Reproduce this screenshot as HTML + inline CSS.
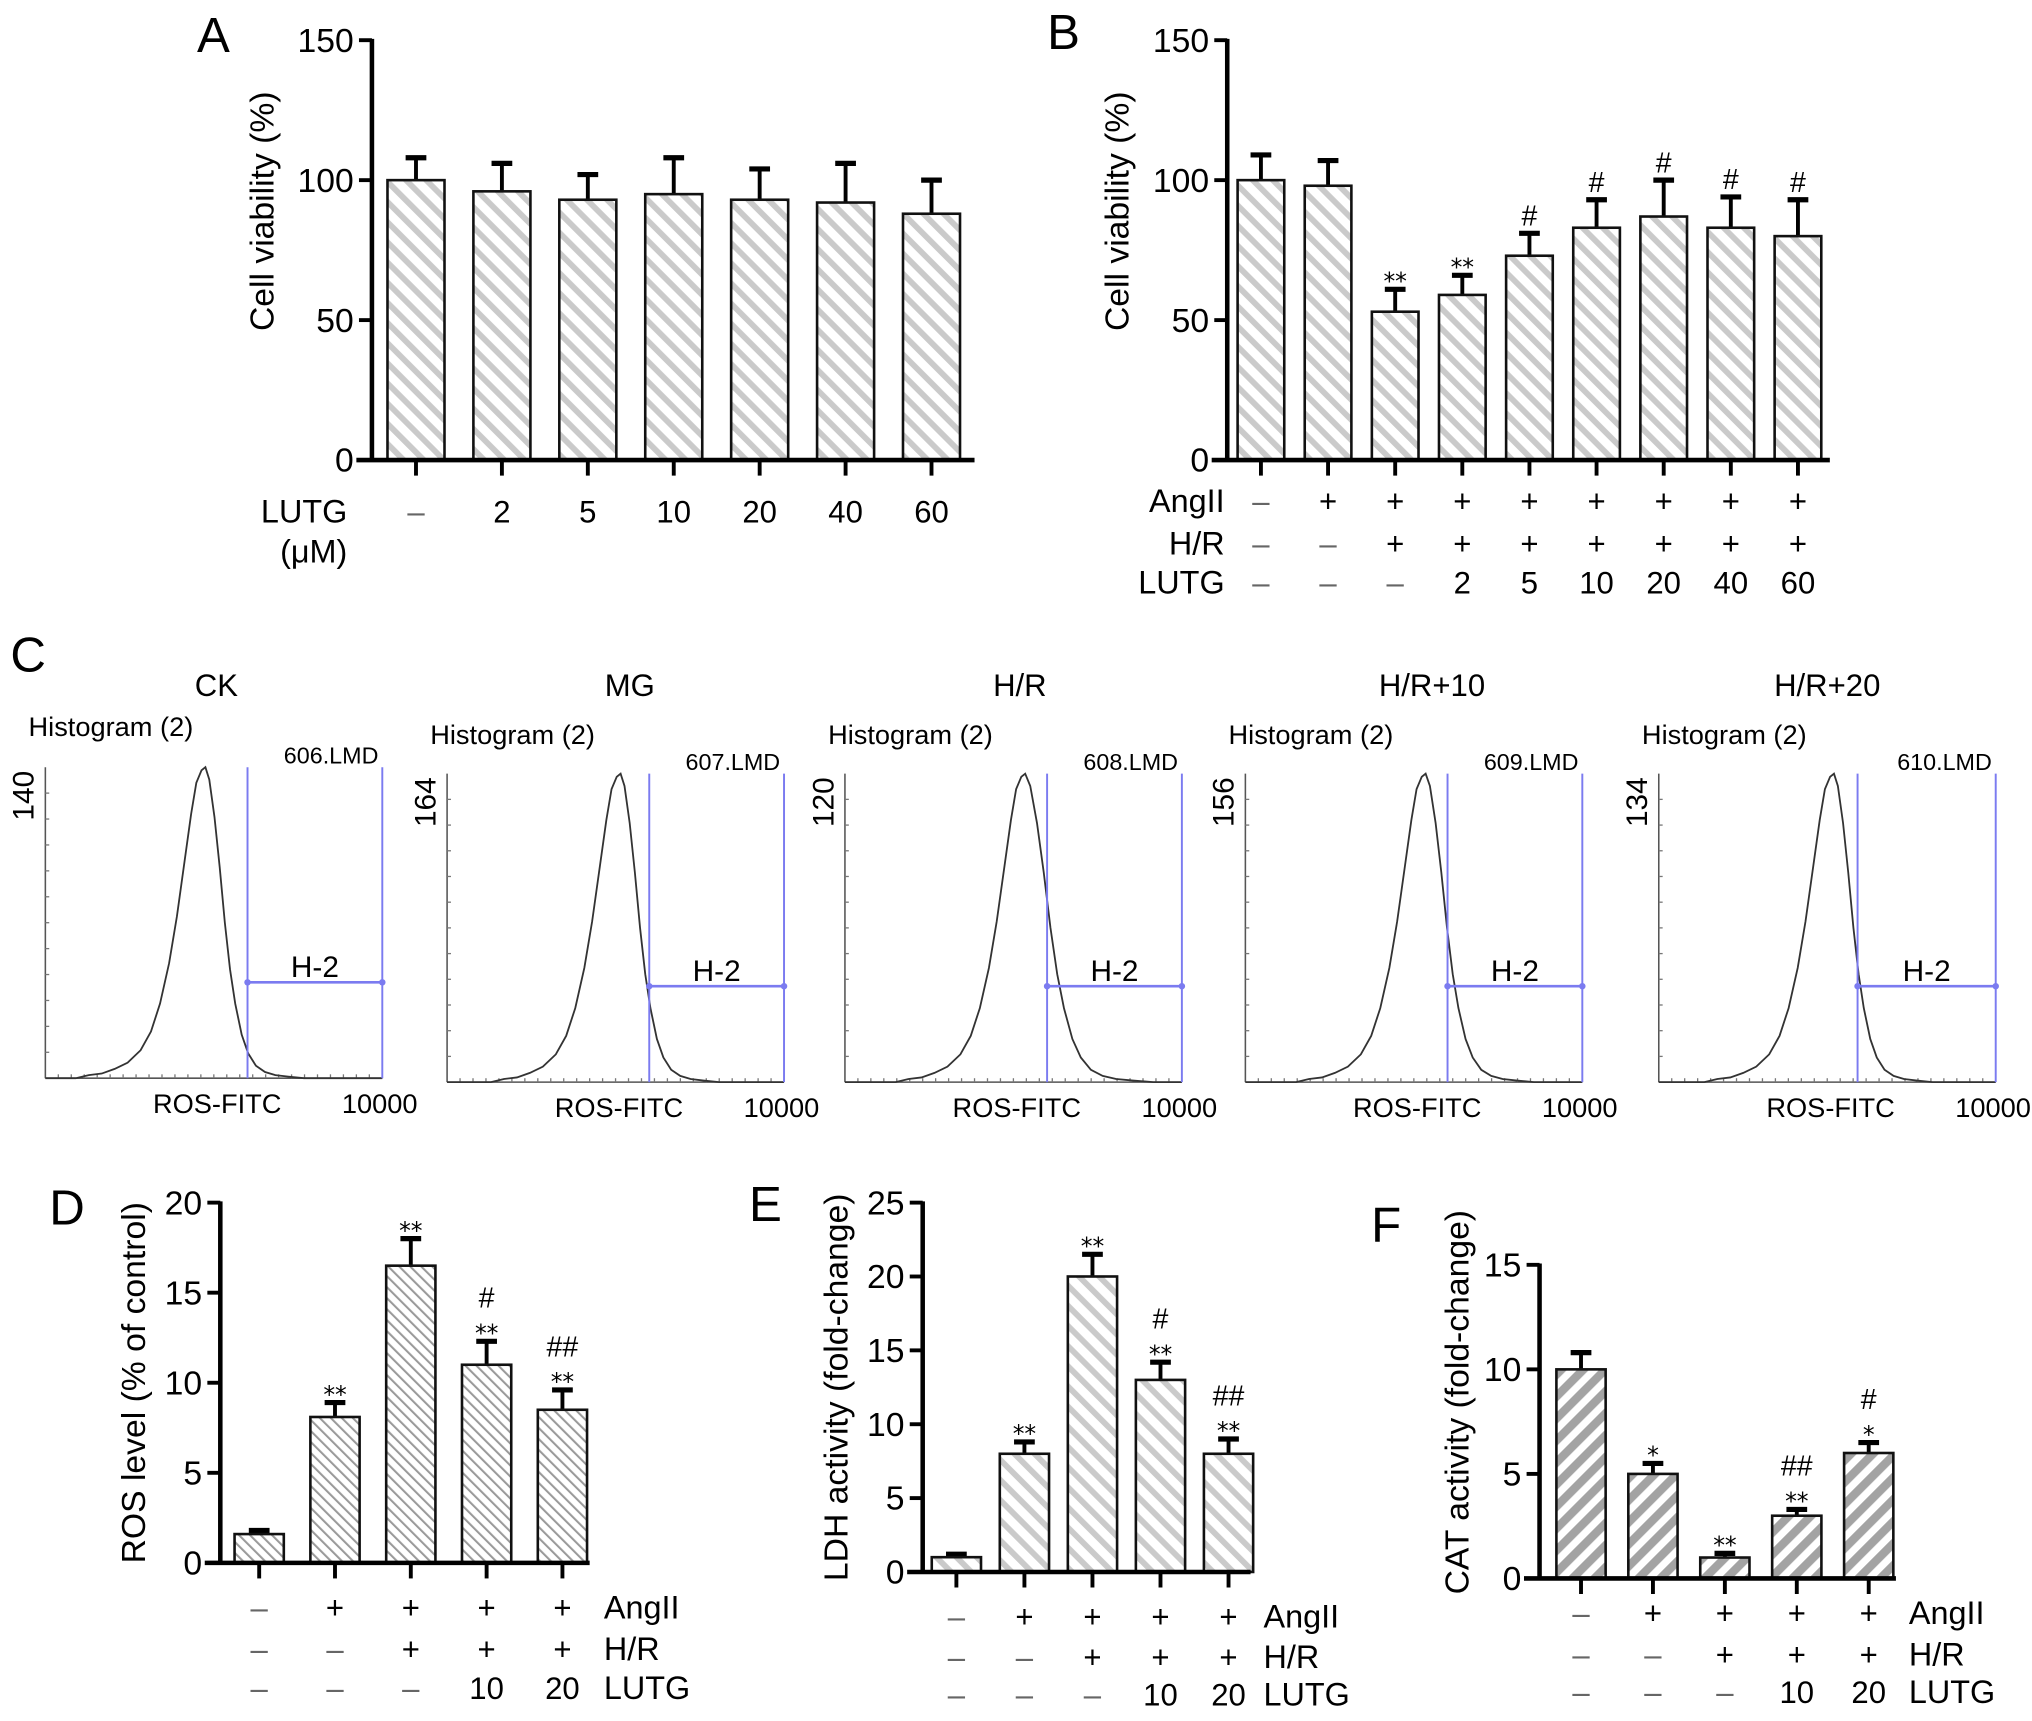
<!DOCTYPE html>
<html><head><meta charset="utf-8"><style>
html,body{margin:0;padding:0;background:#fff;}
svg{display:block;font-family:"Liberation Sans",Arial,sans-serif;}
</style></head><body>
<svg id="fig" width="2032" height="1721" viewBox="0 0 1568 1328" xmlns="http://www.w3.org/2000/svg">
<defs>
<pattern id="hatchLight" patternUnits="userSpaceOnUse" width="11" height="11" patternTransform="rotate(-45)">
<rect width="11" height="11" fill="#fff"/><rect x="0" y="0" width="4.5" height="11" fill="#cacaca"/></pattern>
<pattern id="hatchDense" patternUnits="userSpaceOnUse" width="6" height="6" patternTransform="rotate(-45)">
<rect width="6" height="6" fill="#fff"/><rect x="0" y="0" width="1.6" height="6" fill="#9a9a9a"/></pattern>
<pattern id="hatchDark" patternUnits="userSpaceOnUse" width="12" height="12" patternTransform="rotate(45)">
<rect width="12" height="12" fill="#fff"/><rect x="0" y="0" width="6.5" height="12" fill="#a3a3a3"/></pattern>
</defs>
<g id="root"></g>
</svg>
<script>
// ---------- Panel A data ----------
const aCats = ["–","2","5","10","20","40","60"];
const aVals = [100,96,93,95,93,92,88];
const aErr  = [108,106,102,108,104,106,100];
const aTicks = [0,50,100,150];
// ---------- Panel B data ----------
const bAng = ["–","+","+","+","+","+","+","+","+"];
const bHR  = ["–","–","+","+","+","+","+","+","+"];
const bLut = ["–","–","–","2","5","10","20","40","60"];
const bVals = [100,98,53,59,73,83,87,83,80];
const bErr  = [109,107,61,66,81,93,100,94,93];
const bStar = ["","","**","**","","","","",""];
const bHash = ["","","","","#","#","#","#","#"];
const bTicks = [0,50,100,150];
// ---------- Panel D data ----------
const dAng = ["–","+","+","+","+"];
const dHR  = ["–","–","+","+","+"];
const dLut = ["–","–","–","10","20"];
const dVals = [1.6,8.1,16.5,11,8.5];
const dErr  = [1.8,8.9,18,12.3,9.6];
const dStar = ["","**","**","**","**"];
const dHash = ["","","","#","##"];
const dTicks = [0,5,10,15,20];
// ---------- Panel E data ----------
const eVals = [1,8,20,13,8];
const eErr  = [1.2,8.8,21.5,14.2,9];
const eStar = ["","**","**","**","**"];
const eHash = ["","","","#","##"];
const eTicks = [0,5,10,15,20,25];
// ---------- Panel F data ----------
const fVals = [10,5,1,3,6];
const fErr  = [10.8,5.5,1.2,3.3,6.5];
const fStar = ["","*","**","**","*"];
const fHash = ["","","","##","#"];
const fTicks = [0,5,10,15];
// ---------- Panel C data ----------
const cTitles = ["CK","MG","H/R","H/R+10","H/R+20"];
const cMax = ["140","164","120","156","134"];
const cFiles = ["606.LMD","607.LMD","608.LMD","609.LMD","610.LMD"];
const cPeakPos = [0.475,0.515,0.535,0.535,0.52];
const cRightWidth = [1.0,1.0,1.3,1.1,1.0];
const cGatePos = [0.6,0.6,0.6,0.6,0.59];
const cProfileOffsets = [-100,-90,-80,-70,-60,-50,-42,-35,-28,-22,-16,-11,-7,-3,0,3,7,11,15,19,23,28,33,39,46,54,64,76];
const cProfile = [0,0.01,0.015,0.03,0.05,0.09,0.15,0.24,0.37,0.52,0.7,0.85,0.95,0.99,1,0.96,0.84,0.68,0.5,0.35,0.24,0.14,0.08,0.04,0.02,0.01,0.005,0];

const NS="http://www.w3.org/2000/svg";
const root=document.getElementById('root');
function el(tag,attrs,parent,text){const e=document.createElementNS(NS,tag);for(const k in attrs)e.setAttribute(k,attrs[k]);if(text!==undefined)e.textContent=text;(parent||root).appendChild(e);return e;}

function barChart(o){
  const g=el('g',{});
  
  
  const y=v=>o.y0-(v/o.ymax)*(o.y0-o.ytop);
  const x=i=>o.x0+o.first+i*o.step;
  o.vals.forEach((v,i)=>{
    const eb=el('line',{x1:x(i),x2:x(i),y1:y(v),y2:y(o.err[i]),stroke:'#000','stroke-width':3},g);
    
    
    const cap=el('line',{x1:x(i)-8,x2:x(i)+8,y1:y(o.err[i]),y2:y(o.err[i]),stroke:'#000','stroke-width':4},g);
    
    
    const r=el('rect',{x:x(i)-o.bw/2,y:y(v),width:o.bw,height:o.y0-y(v),fill:o.fill,stroke:'#111','stroke-width':2},g);
    
    
    let ty=y(o.err[i])-10;
    if(o.star&&o.star[i]){const t=el('text',{x:x(i),y:ty+4,'text-anchor':'middle','font-size':18},g,o.star[i].replace(/\*/g,'⁎'));ty-=20;}
    if(o.hash&&o.hash[i]){const t=el('text',{x:x(i),y:ty+4,'text-anchor':'middle','font-size':22},g,o.hash[i]);}
    const tk=el('line',{x1:x(i),x2:x(i),y1:o.y0,y2:o.y0+12,stroke:'#000','stroke-width':3},g);
    
    
  });
  const ya=el('line',{x1:o.x0,x2:o.x0,y1:o.ytop-1,y2:o.y0+1,stroke:'#000','stroke-width':3.5},g);
  
  
  const xa=el('line',{x1:o.x0-12,x2:o.xend,y1:o.y0,y2:o.y0,stroke:'#000','stroke-width':3.5},g);
  
  
  o.ticks.forEach(t=>{
    el('line',{x1:o.x0-10,x2:o.x0,y1:y(t),y2:y(t),stroke:'#000','stroke-width':3},g);
    const tl=el('text',{x:o.x0-14,y:y(t)+9,'text-anchor':'end','font-size':o.fs||26},g,String(t));
    
    
  });
  const yl=el('text',{transform:`translate(${o.ylabX},${(o.y0+o.ytop)/2+(o.ylabDy||0)}) rotate(-90)`,'text-anchor':'middle','font-size':o.ylfs||26},g,o.ylabel);
  
  
  o.rows.forEach((row,ri)=>{
    row.vals.forEach((s,i)=>{
      const t=el('text',{x:x(i),y:row.y,'text-anchor':'middle','font-size':24,fill:s==='–'?'#666':'#000'},g,s);
      
      
    });
    if(row.label){const t=el('text',{x:row.lx,y:row.y,'text-anchor':row.anchor,'font-size':25},g,row.label);}
  });
  const pl=el('text',{x:o.letter[0],y:o.letter[1],'font-size':38},g,o.letter[2]);
  
  
}

barChart({name:'panel-a-chart',x0:287,y0:355,ytop:31,ymax:150,xend:752,first:34,step:66.3,bw:44,vals:aVals,err:aErr,ticks:aTicks,fill:'url(#hatchLight)',ylabel:'Cell viability (%)',ylabX:211,ylabDy:-30,
 rows:[{vals:aCats,y:403,label:'LUTG',lx:268,anchor:'end'},{vals:[],y:434,label:'(μM)',lx:268,anchor:'end'}],letter:[152,40,'A']});
barChart({name:'panel-b-chart',x0:947,y0:355,ytop:31,ymax:150,xend:1412,first:26,step:51.8,bw:36,vals:bVals,err:bErr,star:bStar,hash:bHash,ticks:bTicks,fill:'url(#hatchLight)',ylabel:'Cell viability (%)',ylabX:871,ylabDy:-30,
 rows:[{vals:bAng,y:395,label:'AngII',lx:945,anchor:'end'},{vals:bHR,y:428,label:'H/R',lx:945,anchor:'end'},{vals:bLut,y:458,label:'LUTG',lx:945,anchor:'end'}],letter:[808,38,'B']});
barChart({name:'panel-d-chart',x0:170,y0:1206,ytop:928,ymax:20,xend:455,first:30,step:58.5,bw:38,vals:dVals,err:dErr,star:dStar,hash:dHash,ticks:dTicks,fill:'url(#hatchDense)',ylabel:'ROS level (% of control)',ylabX:112,ylabDy:0,
 rows:[{vals:dAng,y:1249,label:'AngII',lx:466,anchor:'start'},{vals:dHR,y:1281,label:'H/R',lx:466,anchor:'start'},{vals:dLut,y:1311,label:'LUTG',lx:466,anchor:'start'}],letter:[38,945,'D']});
barChart({name:'panel-e-chart',x0:712,y0:1213,ytop:928,ymax:25,xend:965,first:26,step:52.5,bw:38,vals:eVals,err:eErr,star:eStar,hash:eHash,ticks:eTicks,fill:'url(#hatchLight)',ylabel:'LDH activity (fold-change)',ylabX:654,ylabDy:0,
 rows:[{vals:dAng,y:1256,label:'AngII',lx:975,anchor:'start'},{vals:dHR,y:1287,label:'H/R',lx:975,anchor:'start'},{vals:dLut,y:1316,label:'LUTG',lx:975,anchor:'start'}],letter:[578,942,'E']});
barChart({name:'panel-f-chart',x0:1188,y0:1218,ytop:976,ymax:15,xend:1463,first:32,step:55.5,bw:38,vals:fVals,err:fErr,star:fStar,hash:fHash,ticks:fTicks,fill:'url(#hatchDark)',ylabel:'CAT activity (fold-change)',ylabX:1133,ylabDy:-15,
 rows:[{vals:dAng,y:1253,label:'AngII',lx:1473,anchor:'start'},{vals:dHR,y:1285,label:'H/R',lx:1473,anchor:'start'},{vals:dLut,y:1314,label:'LUTG',lx:1473,anchor:'start'}],letter:[1058,958,'F']});

// ---------- Panel C: flow histograms ----------
const cLeft=[35,345,652,961,1280];
const cTitleX=[167,486,787,1105,1410];
const W=260, TOP=[592,597,597,597,597], BOT=[832,835,835,835,835];
const pc=el('text',{x:8,y:518,'font-size':38},root,'C');


cTitles.forEach((title,k)=>{
  const g=el('g',{});
  
  
  const L=cLeft[k],B=BOT[k],T=TOP[k],R=L+W;
  const tt=el('text',{x:cTitleX[k],y:537,'text-anchor':'middle','font-size':24},g,title);
  
  
  const hl=el('text',{x:L-13,y:k==0?568:574,'font-size':21},g,'Histogram (2)');
  
  
  const mx=el('text',{transform:`translate(${L-9},${T+22}) rotate(-90)`,'font-size':23,'text-anchor':'middle'},g,cMax[k]);
  
  
  const lf=el('text',{x:R-3,y:T-3,'font-size':18,'text-anchor':'end'},g,cFiles[k]);
  
  
  el('line',{x1:L,x2:L,y1:T,y2:B,stroke:'#555','stroke-width':1.2},g);
  el('line',{x1:L,x2:R,y1:B,y2:B,stroke:'#555','stroke-width':1.2},g);
  for(let i=1;i<12;i++){el('line',{x1:L,x2:L+3,y1:B-i*(B-T)/12,y2:B-i*(B-T)/12,stroke:'#777','stroke-width':1},g);}
  for(let i=1;i<26;i++){el('line',{x1:L+i*W/26,x2:L+i*W/26,y1:B,y2:B-3,stroke:'#777','stroke-width':1},g);}
  const px=L+cPeakPos[k]*W;
  let d='M'+L+','+B;
  cProfileOffsets.forEach((o,i)=>{const w=o>0?o*cRightWidth[k]:o;d+=' L'+(px+w).toFixed(1)+','+(B-cProfile[i]*(B-T)).toFixed(1);});
  d+=' L'+R+','+B;
  const path=el('path',{d:d,fill:'none',stroke:'#333','stroke-width':1.4},g);
  
  
  const gx=L+cGatePos[k]*W, gy=B-74;
  el('line',{x1:gx,x2:gx,y1:T,y2:B,stroke:'#7b7bf0','stroke-width':1.5},g);
  el('line',{x1:R,x2:R,y1:T,y2:B,stroke:'#7b7bf0','stroke-width':1.5},g);
  const gate=el('line',{x1:gx,x2:R,y1:gy,y2:gy,stroke:'#7b7bf0','stroke-width':2},g);
  
  
  el('circle',{cx:gx,cy:gy,r:2.5,fill:'#7b7bf0'},g);
  el('circle',{cx:R,cy:gy,r:2.5,fill:'#7b7bf0'},g);
  const h2=el('text',{x:(gx+R)/2,y:gy-4,'text-anchor':'middle','font-size':23},g,'H-2');
  
  
  const xl=el('text',{x:L+0.51*W,y:B+27,'text-anchor':'middle','font-size':21},g,'ROS-FITC');
  
  
  const xm=el('text',{x:R-2,y:B+27,'text-anchor':'middle','font-size':21},g,'10000');
  
  
});
</script>
</body></html>
